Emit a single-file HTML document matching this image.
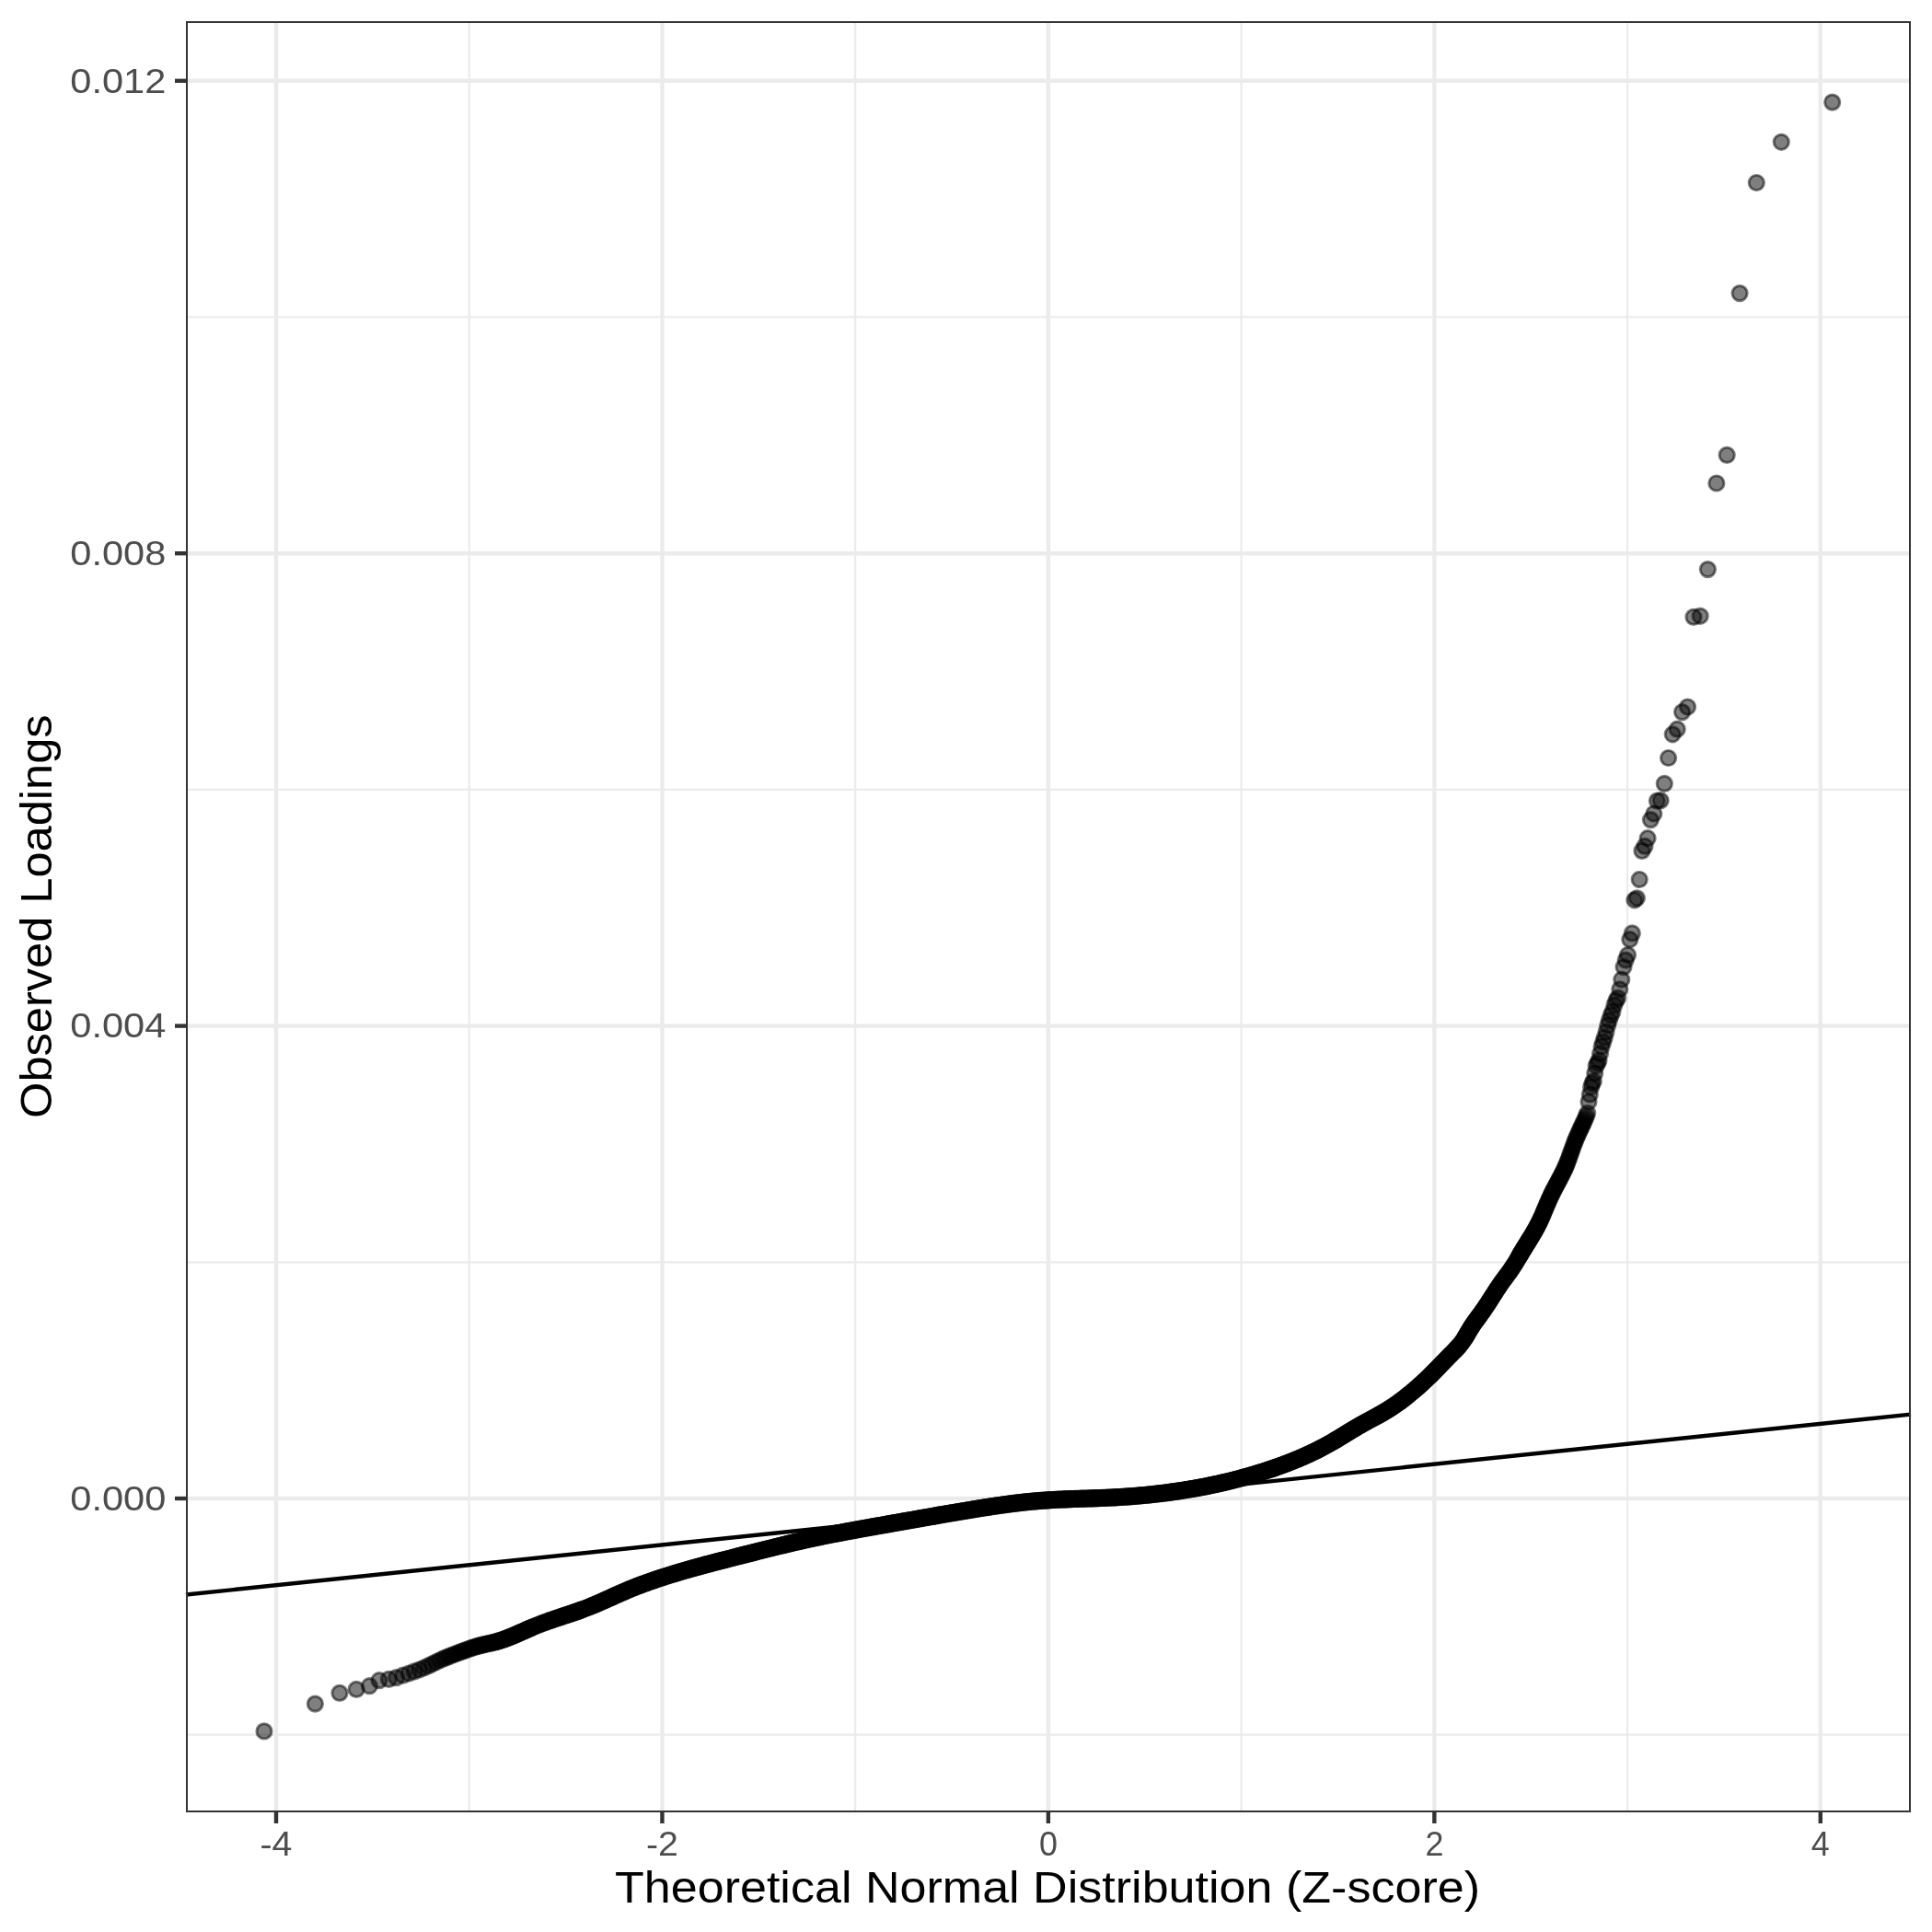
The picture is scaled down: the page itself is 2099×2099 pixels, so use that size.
<!DOCTYPE html>
<html><head><meta charset="utf-8"><style>
html,body{margin:0;padding:0;background:#fff;}
svg{display:block;will-change:transform;}
text{font-family:"Liberation Sans",sans-serif;}
</style></head><body>
<svg width="2099" height="2099" viewBox="0 0 2099 2099">
<rect width="2099" height="2099" fill="#fff"/>
<g stroke="#ebebeb" shape-rendering="auto"><line x1="202" x2="2076" y1="1884.70" y2="1884.70" stroke-width="2.2"/><line x1="202" x2="2076" y1="1371.30" y2="1371.30" stroke-width="2.2"/><line x1="202" x2="2076" y1="857.90" y2="857.90" stroke-width="2.2"/><line x1="202" x2="2076" y1="344.50" y2="344.50" stroke-width="2.2"/><line y1="23" y2="1969" x1="509.73" x2="509.73" stroke-width="2.2"/><line y1="23" y2="1969" x1="929.18" x2="929.18" stroke-width="2.2"/><line y1="23" y2="1969" x1="1348.62" x2="1348.62" stroke-width="2.2"/><line y1="23" y2="1969" x1="1768.08" x2="1768.08" stroke-width="2.2"/><line x1="202" x2="2076" y1="1628.00" y2="1628.00" stroke-width="4.4"/><line x1="202" x2="2076" y1="1114.60" y2="1114.60" stroke-width="4.4"/><line x1="202" x2="2076" y1="601.20" y2="601.20" stroke-width="4.4"/><line x1="202" x2="2076" y1="87.80" y2="87.80" stroke-width="4.4"/><line y1="23" y2="1969" x1="300.00" x2="300.00" stroke-width="4.4"/><line y1="23" y2="1969" x1="719.45" x2="719.45" stroke-width="4.4"/><line y1="23" y2="1969" x1="1138.90" x2="1138.90" stroke-width="4.4"/><line y1="23" y2="1969" x1="1558.35" x2="1558.35" stroke-width="4.4"/><line y1="23" y2="1969" x1="1977.80" x2="1977.80" stroke-width="4.4"/></g>
<g fill="#000" fill-opacity="0.5" stroke="#000" stroke-opacity="0.5" stroke-width="2.95"><circle cx="287.0" cy="1880.9" r="8.14"/><circle cx="342.4" cy="1851.1" r="8.14"/><circle cx="369.0" cy="1839.4" r="8.14"/><circle cx="387.2" cy="1835.4" r="8.14"/><circle cx="401.4" cy="1831.7" r="8.14"/><circle cx="412.0" cy="1825.7" r="8.14"/><circle cx="422.4" cy="1824.4" r="8.14"/><circle cx="430.6" cy="1822.6" r="8.14"/><circle cx="437.8" cy="1820.2" r="8.14"/><circle cx="444.3" cy="1818.0" r="8.14"/><circle cx="450.2" cy="1815.9" r="8.14"/><circle cx="455.6" cy="1814.0" r="8.14"/><circle cx="460.6" cy="1812.0" r="8.14"/><circle cx="465.2" cy="1809.9" r="8.14"/><circle cx="469.5" cy="1807.8" r="8.14"/><circle cx="473.6" cy="1805.8" r="8.14"/><circle cx="477.4" cy="1804.0" r="8.14"/><circle cx="481.0" cy="1802.4" r="8.14"/><circle cx="484.4" cy="1800.9" r="8.14"/><circle cx="487.7" cy="1799.6" r="8.14"/><circle cx="490.8" cy="1798.4" r="8.14"/><circle cx="493.8" cy="1797.3" r="8.14"/><circle cx="496.6" cy="1796.2" r="8.14"/><circle cx="499.4" cy="1795.2" r="8.14"/><circle cx="502.0" cy="1794.2" r="8.14"/><circle cx="504.5" cy="1793.3" r="8.14"/><circle cx="507.0" cy="1792.4" r="8.14"/><circle cx="509.3" cy="1791.5" r="8.14"/><circle cx="511.6" cy="1790.7" r="8.14"/><circle cx="513.8" cy="1790.0" r="8.14"/><circle cx="516.0" cy="1789.3" r="8.14"/><circle cx="518.0" cy="1788.7" r="8.14"/><circle cx="520.1" cy="1788.1" r="8.14"/><circle cx="522.0" cy="1787.6" r="8.14"/><circle cx="523.9" cy="1787.1" r="8.14"/><circle cx="525.8" cy="1786.7" r="8.14"/><circle cx="527.6" cy="1786.3" r="8.14"/><circle cx="529.4" cy="1785.9" r="8.14"/><circle cx="531.1" cy="1785.5" r="8.14"/><circle cx="532.8" cy="1785.1" r="8.14"/><circle cx="534.5" cy="1784.8" r="8.14"/><circle cx="536.1" cy="1784.4" r="8.14"/><circle cx="537.7" cy="1784.0" r="8.14"/><circle cx="539.2" cy="1783.6" r="8.14"/><circle cx="540.7" cy="1783.2" r="8.14"/><circle cx="542.2" cy="1782.7" r="8.14"/><circle cx="543.7" cy="1782.3" r="8.14"/><circle cx="545.1" cy="1781.8" r="8.14"/><circle cx="546.5" cy="1781.4" r="8.14"/><circle cx="547.9" cy="1780.9" r="8.14"/><circle cx="549.2" cy="1780.4" r="8.14"/><circle cx="550.5" cy="1779.9" r="8.14"/><circle cx="551.8" cy="1779.4" r="8.14"/><circle cx="553.1" cy="1778.9" r="8.14"/><circle cx="554.4" cy="1778.4" r="8.14"/><circle cx="555.6" cy="1777.9" r="8.14"/><circle cx="556.8" cy="1777.4" r="8.14"/><circle cx="558.0" cy="1776.9" r="8.14"/><circle cx="559.2" cy="1776.4" r="8.14"/><circle cx="560.4" cy="1775.9" r="8.14"/><circle cx="561.5" cy="1775.4" r="8.14"/><circle cx="562.6" cy="1774.9" r="8.14"/><circle cx="563.7" cy="1774.4" r="8.14"/><circle cx="564.8" cy="1773.9" r="8.14"/><circle cx="565.9" cy="1773.4" r="8.14"/><circle cx="567.0" cy="1773.0" r="8.14"/><circle cx="568.0" cy="1772.5" r="8.14"/><circle cx="569.1" cy="1772.0" r="8.14"/><circle cx="570.1" cy="1771.6" r="8.14"/><circle cx="571.1" cy="1771.1" r="8.14"/><circle cx="572.1" cy="1770.7" r="8.14"/><circle cx="573.1" cy="1770.2" r="8.14"/><circle cx="574.0" cy="1769.8" r="8.14"/><circle cx="575.0" cy="1769.4" r="8.14"/><circle cx="575.9" cy="1769.0" r="8.14"/><circle cx="576.9" cy="1768.6" r="8.14"/><circle cx="577.8" cy="1768.2" r="8.14"/><circle cx="579.6" cy="1767.4" r="8.14"/><circle cx="581.4" cy="1766.7" r="8.14"/><circle cx="583.1" cy="1766.0" r="8.14"/><circle cx="584.8" cy="1765.3" r="8.14"/><circle cx="586.5" cy="1764.7" r="8.14"/><circle cx="588.1" cy="1764.0" r="8.14"/><circle cx="589.7" cy="1763.4" r="8.14"/><circle cx="591.3" cy="1762.9" r="8.14"/><circle cx="592.8" cy="1762.3" r="8.14"/><circle cx="594.3" cy="1761.8" r="8.14"/><circle cx="595.8" cy="1761.2" r="8.14"/><circle cx="597.3" cy="1760.7" r="8.14"/><circle cx="598.7" cy="1760.2" r="8.14"/><circle cx="600.1" cy="1759.8" r="8.14"/><circle cx="601.5" cy="1759.3" r="8.14"/><circle cx="602.8" cy="1758.8" r="8.14"/><circle cx="604.2" cy="1758.4" r="8.14"/><circle cx="605.5" cy="1757.9" r="8.14"/><circle cx="606.8" cy="1757.5" r="8.14"/><circle cx="608.0" cy="1757.1" r="8.14"/><circle cx="609.3" cy="1756.7" r="8.14"/><circle cx="610.5" cy="1756.2" r="8.14"/><circle cx="611.7" cy="1755.8" r="8.14"/><circle cx="612.9" cy="1755.4" r="8.14"/><circle cx="614.1" cy="1755.0" r="8.14"/><circle cx="615.3" cy="1754.7" r="8.14"/><circle cx="616.4" cy="1754.3" r="8.14"/><circle cx="617.6" cy="1753.9" r="8.14"/><circle cx="618.7" cy="1753.5" r="8.14"/><circle cx="619.8" cy="1753.2" r="8.14"/><circle cx="620.9" cy="1752.8" r="8.14"/><circle cx="622.0" cy="1752.4" r="8.14"/><circle cx="623.0" cy="1752.1" r="8.14"/><circle cx="624.1" cy="1751.7" r="8.14"/><circle cx="625.1" cy="1751.3" r="8.14"/><circle cx="626.1" cy="1751.0" r="8.14"/><circle cx="627.1" cy="1750.6" r="8.14"/><circle cx="628.1" cy="1750.3" r="8.14"/><circle cx="629.1" cy="1749.9" r="8.14"/><circle cx="630.1" cy="1749.6" r="8.14"/><circle cx="631.1" cy="1749.2" r="8.14"/><circle cx="632.0" cy="1748.9" r="8.14"/><circle cx="633.0" cy="1748.5" r="8.14"/><circle cx="634.4" cy="1748.0" r="8.14"/><circle cx="635.8" cy="1747.5" r="8.14"/><circle cx="637.1" cy="1747.0" r="8.14"/><circle cx="638.5" cy="1746.5" r="8.14"/><circle cx="639.8" cy="1746.0" r="8.14"/><circle cx="641.1" cy="1745.4" r="8.14"/><circle cx="642.3" cy="1744.9" r="8.14"/><circle cx="643.6" cy="1744.4" r="8.14"/><circle cx="644.9" cy="1743.9" r="8.14"/><circle cx="646.1" cy="1743.4" r="8.14"/><circle cx="647.3" cy="1742.9" r="8.14"/><circle cx="648.5" cy="1742.4" r="8.14"/><circle cx="649.7" cy="1741.8" r="8.14"/><circle cx="650.8" cy="1741.3" r="8.14"/><circle cx="652.0" cy="1740.8" r="8.14"/><circle cx="653.1" cy="1740.3" r="8.14"/><circle cx="654.2" cy="1739.8" r="8.14"/><circle cx="655.3" cy="1739.4" r="8.14"/><circle cx="656.4" cy="1738.9" r="8.14"/><circle cx="657.5" cy="1738.4" r="8.14"/><circle cx="658.6" cy="1737.9" r="8.14"/><circle cx="659.6" cy="1737.4" r="8.14"/><circle cx="660.6" cy="1737.0" r="8.14"/><circle cx="661.7" cy="1736.5" r="8.14"/><circle cx="662.7" cy="1736.0" r="8.14"/><circle cx="663.7" cy="1735.6" r="8.14"/><circle cx="664.7" cy="1735.1" r="8.14"/><circle cx="665.7" cy="1734.7" r="8.14"/><circle cx="666.7" cy="1734.2" r="8.14"/><circle cx="667.6" cy="1733.8" r="8.14"/><circle cx="668.6" cy="1733.4" r="8.14"/><circle cx="669.5" cy="1732.9" r="8.14"/><circle cx="670.5" cy="1732.5" r="8.14"/><circle cx="671.4" cy="1732.1" r="8.14"/><circle cx="672.3" cy="1731.7" r="8.14"/><circle cx="673.5" cy="1731.1" r="8.14"/><circle cx="674.7" cy="1730.6" r="8.14"/><circle cx="675.9" cy="1730.1" r="8.14"/><circle cx="677.1" cy="1729.6" r="8.14"/><circle cx="678.2" cy="1729.1" r="8.14"/><circle cx="679.4" cy="1728.6" r="8.14"/><circle cx="680.5" cy="1728.1" r="8.14"/><circle cx="681.6" cy="1727.7" r="8.14"/><circle cx="682.7" cy="1727.2" r="8.14"/><circle cx="683.8" cy="1726.7" r="8.14"/><circle cx="684.9" cy="1726.3" r="8.14"/><circle cx="685.9" cy="1725.9" r="8.14"/><circle cx="687.0" cy="1725.4" r="8.14"/><circle cx="688.0" cy="1725.0" r="8.14"/><circle cx="689.0" cy="1724.6" r="8.14"/><circle cx="690.1" cy="1724.2" r="8.14"/><circle cx="691.1" cy="1723.8" r="8.14"/><circle cx="692.1" cy="1723.4" r="8.14"/><circle cx="693.0" cy="1723.0" r="8.14"/><circle cx="694.0" cy="1722.7" r="8.14"/><circle cx="695.0" cy="1722.3" r="8.14"/><circle cx="696.0" cy="1721.9" r="8.14"/><circle cx="696.9" cy="1721.6" r="8.14"/><circle cx="697.8" cy="1721.2" r="8.14"/><circle cx="699.0" cy="1720.8" r="8.14"/><circle cx="700.2" cy="1720.4" r="8.14"/><circle cx="701.3" cy="1720.0" r="8.14"/><circle cx="702.4" cy="1719.6" r="8.14"/><circle cx="703.5" cy="1719.2" r="8.14"/><circle cx="704.6" cy="1718.8" r="8.14"/><circle cx="705.7" cy="1718.4" r="8.14"/><circle cx="706.8" cy="1718.0" r="8.14"/><circle cx="707.9" cy="1717.6" r="8.14"/><circle cx="708.9" cy="1717.3" r="8.14"/><circle cx="710.0" cy="1716.9" r="8.14"/><circle cx="711.0" cy="1716.6" r="8.14"/><circle cx="712.0" cy="1716.2" r="8.14"/><circle cx="713.0" cy="1715.9" r="8.14"/><circle cx="714.0" cy="1715.5" r="8.14"/><circle cx="715.0" cy="1715.2" r="8.14"/><circle cx="716.0" cy="1714.9" r="8.14"/><circle cx="717.0" cy="1714.5" r="8.14"/><circle cx="717.9" cy="1714.2" r="8.14"/><circle cx="718.9" cy="1713.9" r="8.14"/><circle cx="720.0" cy="1713.6" r="8.14"/><circle cx="721.2" cy="1713.2" r="8.14"/><circle cx="722.3" cy="1712.8" r="8.14"/><circle cx="723.4" cy="1712.5" r="8.14"/><circle cx="724.5" cy="1712.1" r="8.14"/><circle cx="725.5" cy="1711.8" r="8.14"/><circle cx="726.6" cy="1711.5" r="8.14"/><circle cx="727.7" cy="1711.1" r="8.14"/><circle cx="728.7" cy="1710.8" r="8.14"/><circle cx="729.8" cy="1710.5" r="8.14"/><circle cx="730.8" cy="1710.2" r="8.14"/><circle cx="731.8" cy="1709.9" r="8.14"/><circle cx="732.8" cy="1709.6" r="8.14"/><circle cx="733.8" cy="1709.3" r="8.14"/><circle cx="734.8" cy="1709.0" r="8.14"/><circle cx="735.8" cy="1708.7" r="8.14"/><circle cx="736.7" cy="1708.4" r="8.14"/><circle cx="737.7" cy="1708.1" r="8.14"/><circle cx="738.8" cy="1707.8" r="8.14"/><circle cx="739.9" cy="1707.4" r="8.14"/><circle cx="741.0" cy="1707.1" r="8.14"/><circle cx="742.1" cy="1706.8" r="8.14"/><circle cx="743.2" cy="1706.5" r="8.14"/><circle cx="744.2" cy="1706.2" r="8.14"/><circle cx="745.3" cy="1705.9" r="8.14"/><circle cx="746.3" cy="1705.6" r="8.14"/><circle cx="747.3" cy="1705.3" r="8.14"/><circle cx="748.4" cy="1705.0" r="8.14"/><circle cx="749.4" cy="1704.7" r="8.14"/><circle cx="750.4" cy="1704.4" r="8.14"/><circle cx="751.4" cy="1704.1" r="8.14"/><circle cx="752.4" cy="1703.9" r="8.14"/><circle cx="753.3" cy="1703.6" r="8.14"/><circle cx="754.3" cy="1703.3" r="8.14"/><circle cx="755.4" cy="1703.0" r="8.14"/><circle cx="756.5" cy="1702.7" r="8.14"/><circle cx="757.6" cy="1702.4" r="8.14"/><circle cx="758.6" cy="1702.1" r="8.14"/><circle cx="759.7" cy="1701.9" r="8.14"/><circle cx="760.7" cy="1701.6" r="8.14"/><circle cx="761.8" cy="1701.3" r="8.14"/><circle cx="762.8" cy="1701.0" r="8.14"/><circle cx="763.8" cy="1700.7" r="8.14"/><circle cx="764.8" cy="1700.5" r="8.14"/><circle cx="765.8" cy="1700.2" r="8.14"/><circle cx="766.8" cy="1699.9" r="8.14"/><circle cx="767.8" cy="1699.7" r="8.14"/><circle cx="768.8" cy="1699.4" r="8.14"/><circle cx="769.8" cy="1699.1" r="8.14"/><circle cx="770.8" cy="1698.9" r="8.14"/><circle cx="771.9" cy="1698.6" r="8.14"/><circle cx="773.0" cy="1698.3" r="8.14"/><circle cx="774.0" cy="1698.0" r="8.14"/><circle cx="775.1" cy="1697.7" r="8.14"/><circle cx="776.1" cy="1697.5" r="8.14"/><circle cx="777.1" cy="1697.2" r="8.14"/><circle cx="778.2" cy="1696.9" r="8.14"/><circle cx="779.2" cy="1696.7" r="8.14"/><circle cx="780.2" cy="1696.4" r="8.14"/><circle cx="781.2" cy="1696.2" r="8.14"/><circle cx="782.1" cy="1695.9" r="8.14"/><circle cx="783.1" cy="1695.7" r="8.14"/><circle cx="784.1" cy="1695.4" r="8.14"/><circle cx="785.2" cy="1695.1" r="8.14"/><circle cx="786.2" cy="1694.9" r="8.14"/><circle cx="787.3" cy="1694.6" r="8.14"/><circle cx="788.3" cy="1694.3" r="8.14"/><circle cx="789.3" cy="1694.1" r="8.14"/><circle cx="790.4" cy="1693.8" r="8.14"/><circle cx="791.4" cy="1693.5" r="8.14"/><circle cx="792.4" cy="1693.3" r="8.14"/><circle cx="793.4" cy="1693.0" r="8.14"/><circle cx="794.4" cy="1692.8" r="8.14"/><circle cx="795.4" cy="1692.5" r="8.14"/><circle cx="796.3" cy="1692.3" r="8.14"/><circle cx="797.3" cy="1692.0" r="8.14"/><circle cx="798.4" cy="1691.7" r="8.14"/><circle cx="799.4" cy="1691.5" r="8.14"/><circle cx="800.5" cy="1691.2" r="8.14"/><circle cx="801.5" cy="1690.9" r="8.14"/><circle cx="802.5" cy="1690.7" r="8.14"/><circle cx="803.5" cy="1690.4" r="8.14"/><circle cx="804.5" cy="1690.2" r="8.14"/><circle cx="805.5" cy="1689.9" r="8.14"/><circle cx="806.5" cy="1689.6" r="8.14"/><circle cx="807.5" cy="1689.4" r="8.14"/><circle cx="808.5" cy="1689.1" r="8.14"/><circle cx="809.5" cy="1688.9" r="8.14"/><circle cx="810.5" cy="1688.6" r="8.14"/><circle cx="811.6" cy="1688.4" r="8.14"/><circle cx="812.6" cy="1688.1" r="8.14"/><circle cx="813.6" cy="1687.8" r="8.14"/><circle cx="814.7" cy="1687.6" r="8.14"/><circle cx="815.7" cy="1687.3" r="8.14"/><circle cx="816.7" cy="1687.1" r="8.14"/><circle cx="817.7" cy="1686.8" r="8.14"/><circle cx="818.7" cy="1686.6" r="8.14"/><circle cx="819.7" cy="1686.3" r="8.14"/><circle cx="820.6" cy="1686.1" r="8.14"/><circle cx="821.6" cy="1685.8" r="8.14"/><circle cx="822.6" cy="1685.5" r="8.14"/><circle cx="823.7" cy="1685.3" r="8.14"/><circle cx="824.7" cy="1685.0" r="8.14"/><circle cx="825.7" cy="1684.8" r="8.14"/><circle cx="826.7" cy="1684.5" r="8.14"/><circle cx="827.7" cy="1684.3" r="8.14"/><circle cx="828.7" cy="1684.0" r="8.14"/><circle cx="829.7" cy="1683.8" r="8.14"/><circle cx="830.7" cy="1683.5" r="8.14"/><circle cx="831.7" cy="1683.3" r="8.14"/><circle cx="832.7" cy="1683.0" r="8.14"/><circle cx="833.7" cy="1682.8" r="8.14"/><circle cx="834.7" cy="1682.5" r="8.14"/><circle cx="835.8" cy="1682.3" r="8.14"/><circle cx="836.8" cy="1682.0" r="8.14"/><circle cx="837.8" cy="1681.8" r="8.14"/><circle cx="838.8" cy="1681.5" r="8.14"/><circle cx="839.8" cy="1681.3" r="8.14"/><circle cx="840.8" cy="1681.0" r="8.14"/><circle cx="841.8" cy="1680.8" r="8.14"/><circle cx="842.7" cy="1680.5" r="8.14"/><circle cx="843.8" cy="1680.3" r="8.14"/><circle cx="844.8" cy="1680.0" r="8.14"/><circle cx="845.8" cy="1679.8" r="8.14"/><circle cx="846.8" cy="1679.5" r="8.14"/><circle cx="847.9" cy="1679.3" r="8.14"/><circle cx="848.9" cy="1679.0" r="8.14"/><circle cx="849.9" cy="1678.8" r="8.14"/><circle cx="850.9" cy="1678.6" r="8.14"/><circle cx="851.8" cy="1678.3" r="8.14"/><circle cx="852.8" cy="1678.1" r="8.14"/><circle cx="853.9" cy="1677.8" r="8.14"/><circle cx="854.9" cy="1677.6" r="8.14"/><circle cx="855.9" cy="1677.4" r="8.14"/><circle cx="856.9" cy="1677.1" r="8.14"/><circle cx="857.9" cy="1676.9" r="8.14"/><circle cx="858.9" cy="1676.6" r="8.14"/><circle cx="859.9" cy="1676.4" r="8.14"/><circle cx="860.9" cy="1676.2" r="8.14"/><circle cx="861.9" cy="1676.0" r="8.14"/><circle cx="862.9" cy="1675.7" r="8.14"/><circle cx="863.9" cy="1675.5" r="8.14"/><circle cx="864.9" cy="1675.2" r="8.14"/><circle cx="866.0" cy="1675.0" r="8.14"/><circle cx="867.0" cy="1674.8" r="8.14"/><circle cx="868.0" cy="1674.6" r="8.14"/><circle cx="869.0" cy="1674.3" r="8.14"/><circle cx="870.0" cy="1674.1" r="8.14"/><circle cx="871.0" cy="1673.9" r="8.14"/><circle cx="872.0" cy="1673.7" r="8.14"/><circle cx="872.9" cy="1673.4" r="8.14"/><circle cx="874.0" cy="1673.2" r="8.14"/><circle cx="875.0" cy="1673.0" r="8.14"/><circle cx="876.0" cy="1672.8" r="8.14"/><circle cx="877.0" cy="1672.5" r="8.14"/><circle cx="878.0" cy="1672.3" r="8.14"/><circle cx="879.0" cy="1672.1" r="8.14"/><circle cx="880.0" cy="1671.9" r="8.14"/><circle cx="881.0" cy="1671.7" r="8.14"/><circle cx="882.0" cy="1671.5" r="8.14"/><circle cx="883.0" cy="1671.2" r="8.14"/><circle cx="884.0" cy="1671.0" r="8.14"/><circle cx="885.0" cy="1670.8" r="8.14"/><circle cx="886.0" cy="1670.6" r="8.14"/><circle cx="887.0" cy="1670.4" r="8.14"/><circle cx="888.0" cy="1670.2" r="8.14"/><circle cx="889.0" cy="1670.0" r="8.14"/><circle cx="890.0" cy="1669.8" r="8.14"/><circle cx="891.0" cy="1669.6" r="8.14"/><circle cx="892.0" cy="1669.3" r="8.14"/><circle cx="893.1" cy="1669.1" r="8.14"/><circle cx="894.1" cy="1668.9" r="8.14"/><circle cx="895.1" cy="1668.7" r="8.14"/><circle cx="896.1" cy="1668.5" r="8.14"/><circle cx="897.1" cy="1668.3" r="8.14"/><circle cx="898.1" cy="1668.1" r="8.14"/><circle cx="899.1" cy="1667.9" r="8.14"/><circle cx="900.1" cy="1667.7" r="8.14"/><circle cx="901.1" cy="1667.5" r="8.14"/><circle cx="902.1" cy="1667.3" r="8.14"/><circle cx="903.1" cy="1667.1" r="8.14"/><circle cx="904.1" cy="1666.9" r="8.14"/><circle cx="905.1" cy="1666.7" r="8.14"/><circle cx="906.1" cy="1666.5" r="8.14"/><circle cx="907.1" cy="1666.3" r="8.14"/><circle cx="908.1" cy="1666.1" r="8.14"/><circle cx="909.1" cy="1665.9" r="8.14"/><circle cx="910.1" cy="1665.8" r="8.14"/><circle cx="911.2" cy="1665.6" r="8.14"/><circle cx="912.2" cy="1665.4" r="8.14"/><circle cx="913.2" cy="1665.2" r="8.14"/><circle cx="914.2" cy="1665.0" r="8.14"/><circle cx="915.2" cy="1664.8" r="8.14"/><circle cx="916.2" cy="1664.6" r="8.14"/><circle cx="917.2" cy="1664.4" r="8.14"/><circle cx="918.1" cy="1664.2" r="8.14"/><circle cx="919.2" cy="1664.0" r="8.14"/><circle cx="920.2" cy="1663.8" r="8.14"/><circle cx="921.2" cy="1663.7" r="8.14"/><circle cx="922.2" cy="1663.5" r="8.14"/><circle cx="923.2" cy="1663.3" r="8.14"/><circle cx="924.2" cy="1663.1" r="8.14"/><circle cx="925.2" cy="1662.9" r="8.14"/><circle cx="926.2" cy="1662.7" r="8.14"/><circle cx="927.2" cy="1662.6" r="8.14"/><circle cx="928.2" cy="1662.4" r="8.14"/><circle cx="929.2" cy="1662.2" r="8.14"/><circle cx="930.2" cy="1662.0" r="8.14"/><circle cx="931.2" cy="1661.8" r="8.14"/><circle cx="932.2" cy="1661.6" r="8.14"/><circle cx="933.2" cy="1661.4" r="8.14"/><circle cx="934.2" cy="1661.3" r="8.14"/><circle cx="935.2" cy="1661.1" r="8.14"/><circle cx="936.2" cy="1660.9" r="8.14"/><circle cx="937.3" cy="1660.7" r="8.14"/><circle cx="938.3" cy="1660.5" r="8.14"/><circle cx="939.3" cy="1660.4" r="8.14"/><circle cx="940.3" cy="1660.2" r="8.14"/><circle cx="941.3" cy="1660.0" r="8.14"/><circle cx="942.3" cy="1659.8" r="8.14"/><circle cx="943.3" cy="1659.6" r="8.14"/><circle cx="944.3" cy="1659.5" r="8.14"/><circle cx="945.3" cy="1659.3" r="8.14"/><circle cx="946.3" cy="1659.1" r="8.14"/><circle cx="947.3" cy="1658.9" r="8.14"/><circle cx="948.3" cy="1658.7" r="8.14"/><circle cx="949.3" cy="1658.6" r="8.14"/><circle cx="950.3" cy="1658.4" r="8.14"/><circle cx="951.3" cy="1658.2" r="8.14"/><circle cx="952.3" cy="1658.0" r="8.14"/><circle cx="953.3" cy="1657.9" r="8.14"/><circle cx="954.3" cy="1657.7" r="8.14"/><circle cx="955.4" cy="1657.5" r="8.14"/><circle cx="956.4" cy="1657.3" r="8.14"/><circle cx="957.4" cy="1657.2" r="8.14"/><circle cx="958.4" cy="1657.0" r="8.14"/><circle cx="959.4" cy="1656.8" r="8.14"/><circle cx="960.4" cy="1656.6" r="8.14"/><circle cx="961.4" cy="1656.4" r="8.14"/><circle cx="962.4" cy="1656.3" r="8.14"/><circle cx="963.4" cy="1656.1" r="8.14"/><circle cx="964.4" cy="1655.9" r="8.14"/><circle cx="965.4" cy="1655.7" r="8.14"/><circle cx="966.4" cy="1655.6" r="8.14"/><circle cx="967.4" cy="1655.4" r="8.14"/><circle cx="968.4" cy="1655.2" r="8.14"/><circle cx="969.4" cy="1655.0" r="8.14"/><circle cx="970.4" cy="1654.9" r="8.14"/><circle cx="971.4" cy="1654.7" r="8.14"/><circle cx="972.4" cy="1654.5" r="8.14"/><circle cx="973.4" cy="1654.3" r="8.14"/><circle cx="974.4" cy="1654.2" r="8.14"/><circle cx="975.4" cy="1654.0" r="8.14"/><circle cx="976.5" cy="1653.8" r="8.14"/><circle cx="977.5" cy="1653.6" r="8.14"/><circle cx="978.5" cy="1653.4" r="8.14"/><circle cx="979.4" cy="1653.3" r="8.14"/><circle cx="980.4" cy="1653.1" r="8.14"/><circle cx="981.4" cy="1652.9" r="8.14"/><circle cx="982.4" cy="1652.7" r="8.14"/><circle cx="983.5" cy="1652.6" r="8.14"/><circle cx="984.5" cy="1652.4" r="8.14"/><circle cx="985.5" cy="1652.2" r="8.14"/><circle cx="986.5" cy="1652.0" r="8.14"/><circle cx="987.5" cy="1651.9" r="8.14"/><circle cx="988.5" cy="1651.7" r="8.14"/><circle cx="989.5" cy="1651.5" r="8.14"/><circle cx="990.5" cy="1651.3" r="8.14"/><circle cx="991.4" cy="1651.2" r="8.14"/><circle cx="992.5" cy="1651.0" r="8.14"/><circle cx="993.5" cy="1650.8" r="8.14"/><circle cx="994.5" cy="1650.6" r="8.14"/><circle cx="995.5" cy="1650.4" r="8.14"/><circle cx="996.5" cy="1650.3" r="8.14"/><circle cx="997.5" cy="1650.1" r="8.14"/><circle cx="998.5" cy="1649.9" r="8.14"/><circle cx="999.5" cy="1649.7" r="8.14"/><circle cx="1000.5" cy="1649.6" r="8.14"/><circle cx="1001.5" cy="1649.4" r="8.14"/><circle cx="1002.5" cy="1649.2" r="8.14"/><circle cx="1003.5" cy="1649.0" r="8.14"/><circle cx="1004.5" cy="1648.9" r="8.14"/><circle cx="1005.5" cy="1648.7" r="8.14"/><circle cx="1006.5" cy="1648.5" r="8.14"/><circle cx="1007.5" cy="1648.3" r="8.14"/><circle cx="1008.5" cy="1648.2" r="8.14"/><circle cx="1009.5" cy="1648.0" r="8.14"/><circle cx="1010.5" cy="1647.8" r="8.14"/><circle cx="1011.5" cy="1647.6" r="8.14"/><circle cx="1012.5" cy="1647.5" r="8.14"/><circle cx="1013.5" cy="1647.3" r="8.14"/><circle cx="1014.5" cy="1647.1" r="8.14"/><circle cx="1015.5" cy="1646.9" r="8.14"/><circle cx="1016.5" cy="1646.8" r="8.14"/><circle cx="1017.5" cy="1646.6" r="8.14"/><circle cx="1018.5" cy="1646.4" r="8.14"/><circle cx="1019.5" cy="1646.2" r="8.14"/><circle cx="1020.5" cy="1646.1" r="8.14"/><circle cx="1021.5" cy="1645.9" r="8.14"/><circle cx="1022.5" cy="1645.7" r="8.14"/><circle cx="1023.5" cy="1645.5" r="8.14"/><circle cx="1024.5" cy="1645.4" r="8.14"/><circle cx="1025.5" cy="1645.2" r="8.14"/><circle cx="1026.5" cy="1645.0" r="8.14"/><circle cx="1027.5" cy="1644.9" r="8.14"/><circle cx="1028.5" cy="1644.7" r="8.14"/><circle cx="1029.5" cy="1644.5" r="8.14"/><circle cx="1030.5" cy="1644.3" r="8.14"/><circle cx="1031.5" cy="1644.2" r="8.14"/><circle cx="1032.5" cy="1644.0" r="8.14"/><circle cx="1033.5" cy="1643.8" r="8.14"/><circle cx="1034.5" cy="1643.7" r="8.14"/><circle cx="1035.4" cy="1643.5" r="8.14"/><circle cx="1036.5" cy="1643.3" r="8.14"/><circle cx="1037.5" cy="1643.1" r="8.14"/><circle cx="1038.5" cy="1643.0" r="8.14"/><circle cx="1039.5" cy="1642.8" r="8.14"/><circle cx="1040.5" cy="1642.6" r="8.14"/><circle cx="1041.5" cy="1642.5" r="8.14"/><circle cx="1042.5" cy="1642.3" r="8.14"/><circle cx="1043.5" cy="1642.1" r="8.14"/><circle cx="1044.5" cy="1642.0" r="8.14"/><circle cx="1045.5" cy="1641.8" r="8.14"/><circle cx="1046.5" cy="1641.6" r="8.14"/><circle cx="1047.4" cy="1641.5" r="8.14"/><circle cx="1048.5" cy="1641.3" r="8.14"/><circle cx="1049.5" cy="1641.1" r="8.14"/><circle cx="1050.5" cy="1641.0" r="8.14"/><circle cx="1051.5" cy="1640.8" r="8.14"/><circle cx="1052.5" cy="1640.6" r="8.14"/><circle cx="1053.5" cy="1640.5" r="8.14"/><circle cx="1054.5" cy="1640.3" r="8.14"/><circle cx="1055.5" cy="1640.1" r="8.14"/><circle cx="1056.5" cy="1640.0" r="8.14"/><circle cx="1057.5" cy="1639.8" r="8.14"/><circle cx="1058.5" cy="1639.6" r="8.14"/><circle cx="1059.5" cy="1639.5" r="8.14"/><circle cx="1060.5" cy="1639.3" r="8.14"/><circle cx="1061.5" cy="1639.2" r="8.14"/><circle cx="1062.4" cy="1639.0" r="8.14"/><circle cx="1063.5" cy="1638.8" r="8.14"/><circle cx="1064.5" cy="1638.7" r="8.14"/><circle cx="1065.5" cy="1638.5" r="8.14"/><circle cx="1066.5" cy="1638.3" r="8.14"/><circle cx="1067.5" cy="1638.2" r="8.14"/><circle cx="1068.5" cy="1638.0" r="8.14"/><circle cx="1069.5" cy="1637.9" r="8.14"/><circle cx="1070.5" cy="1637.7" r="8.14"/><circle cx="1071.5" cy="1637.6" r="8.14"/><circle cx="1072.5" cy="1637.4" r="8.14"/><circle cx="1073.5" cy="1637.3" r="8.14"/><circle cx="1074.5" cy="1637.1" r="8.14"/><circle cx="1075.5" cy="1636.9" r="8.14"/><circle cx="1076.5" cy="1636.8" r="8.14"/><circle cx="1077.5" cy="1636.6" r="8.14"/><circle cx="1078.5" cy="1636.5" r="8.14"/><circle cx="1079.5" cy="1636.3" r="8.14"/><circle cx="1080.5" cy="1636.2" r="8.14"/><circle cx="1081.5" cy="1636.0" r="8.14"/><circle cx="1082.5" cy="1635.9" r="8.14"/><circle cx="1083.5" cy="1635.8" r="8.14"/><circle cx="1084.5" cy="1635.6" r="8.14"/><circle cx="1085.5" cy="1635.5" r="8.14"/><circle cx="1086.5" cy="1635.3" r="8.14"/><circle cx="1087.6" cy="1635.2" r="8.14"/><circle cx="1088.6" cy="1635.0" r="8.14"/><circle cx="1089.6" cy="1634.9" r="8.14"/><circle cx="1090.6" cy="1634.8" r="8.14"/><circle cx="1091.6" cy="1634.6" r="8.14"/><circle cx="1092.6" cy="1634.5" r="8.14"/><circle cx="1093.6" cy="1634.4" r="8.14"/><circle cx="1094.6" cy="1634.2" r="8.14"/><circle cx="1095.5" cy="1634.1" r="8.14"/><circle cx="1096.5" cy="1634.0" r="8.14"/><circle cx="1097.5" cy="1633.8" r="8.14"/><circle cx="1098.5" cy="1633.7" r="8.14"/><circle cx="1099.5" cy="1633.6" r="8.14"/><circle cx="1100.5" cy="1633.4" r="8.14"/><circle cx="1101.6" cy="1633.3" r="8.14"/><circle cx="1102.6" cy="1633.2" r="8.14"/><circle cx="1103.6" cy="1633.1" r="8.14"/><circle cx="1104.6" cy="1632.9" r="8.14"/><circle cx="1105.6" cy="1632.8" r="8.14"/><circle cx="1106.6" cy="1632.7" r="8.14"/><circle cx="1107.6" cy="1632.6" r="8.14"/><circle cx="1108.7" cy="1632.5" r="8.14"/><circle cx="1109.7" cy="1632.4" r="8.14"/><circle cx="1110.7" cy="1632.2" r="8.14"/><circle cx="1111.7" cy="1632.1" r="8.14"/><circle cx="1112.7" cy="1632.0" r="8.14"/><circle cx="1113.7" cy="1631.9" r="8.14"/><circle cx="1114.7" cy="1631.8" r="8.14"/><circle cx="1115.7" cy="1631.7" r="8.14"/><circle cx="1116.7" cy="1631.6" r="8.14"/><circle cx="1117.7" cy="1631.5" r="8.14"/><circle cx="1118.7" cy="1631.4" r="8.14"/><circle cx="1119.7" cy="1631.3" r="8.14"/><circle cx="1120.7" cy="1631.2" r="8.14"/><circle cx="1121.7" cy="1631.1" r="8.14"/><circle cx="1122.7" cy="1631.0" r="8.14"/><circle cx="1123.7" cy="1630.9" r="8.14"/><circle cx="1124.7" cy="1630.8" r="8.14"/><circle cx="1125.7" cy="1630.8" r="8.14"/><circle cx="1126.8" cy="1630.7" r="8.14"/><circle cx="1127.8" cy="1630.6" r="8.14"/><circle cx="1128.8" cy="1630.5" r="8.14"/><circle cx="1129.8" cy="1630.4" r="8.14"/><circle cx="1130.8" cy="1630.3" r="8.14"/><circle cx="1131.8" cy="1630.3" r="8.14"/><circle cx="1132.8" cy="1630.2" r="8.14"/><circle cx="1133.8" cy="1630.1" r="8.14"/><circle cx="1134.8" cy="1630.1" r="8.14"/><circle cx="1135.8" cy="1630.0" r="8.14"/><circle cx="1136.8" cy="1629.9" r="8.14"/><circle cx="1137.8" cy="1629.9" r="8.14"/><circle cx="1138.8" cy="1629.8" r="8.14"/><circle cx="1139.8" cy="1629.7" r="8.14"/><circle cx="1140.8" cy="1629.7" r="8.14"/><circle cx="1141.8" cy="1629.6" r="8.14"/><circle cx="1142.8" cy="1629.5" r="8.14"/><circle cx="1143.8" cy="1629.5" r="8.14"/><circle cx="1144.8" cy="1629.4" r="8.14"/><circle cx="1145.8" cy="1629.4" r="8.14"/><circle cx="1146.8" cy="1629.3" r="8.14"/><circle cx="1147.8" cy="1629.3" r="8.14"/><circle cx="1148.8" cy="1629.2" r="8.14"/><circle cx="1149.8" cy="1629.2" r="8.14"/><circle cx="1150.8" cy="1629.1" r="8.14"/><circle cx="1151.8" cy="1629.1" r="8.14"/><circle cx="1152.8" cy="1629.0" r="8.14"/><circle cx="1153.8" cy="1629.0" r="8.14"/><circle cx="1154.8" cy="1628.9" r="8.14"/><circle cx="1155.8" cy="1628.9" r="8.14"/><circle cx="1156.8" cy="1628.9" r="8.14"/><circle cx="1157.8" cy="1628.8" r="8.14"/><circle cx="1158.8" cy="1628.8" r="8.14"/><circle cx="1159.8" cy="1628.7" r="8.14"/><circle cx="1160.8" cy="1628.7" r="8.14"/><circle cx="1161.8" cy="1628.7" r="8.14"/><circle cx="1162.8" cy="1628.6" r="8.14"/><circle cx="1163.8" cy="1628.6" r="8.14"/><circle cx="1164.8" cy="1628.5" r="8.14"/><circle cx="1165.8" cy="1628.5" r="8.14"/><circle cx="1166.8" cy="1628.5" r="8.14"/><circle cx="1167.9" cy="1628.4" r="8.14"/><circle cx="1168.9" cy="1628.4" r="8.14"/><circle cx="1169.9" cy="1628.4" r="8.14"/><circle cx="1170.9" cy="1628.3" r="8.14"/><circle cx="1171.9" cy="1628.3" r="8.14"/><circle cx="1172.9" cy="1628.3" r="8.14"/><circle cx="1173.9" cy="1628.2" r="8.14"/><circle cx="1174.9" cy="1628.2" r="8.14"/><circle cx="1176.0" cy="1628.2" r="8.14"/><circle cx="1177.0" cy="1628.1" r="8.14"/><circle cx="1178.0" cy="1628.1" r="8.14"/><circle cx="1179.0" cy="1628.1" r="8.14"/><circle cx="1180.0" cy="1628.0" r="8.14"/><circle cx="1181.0" cy="1628.0" r="8.14"/><circle cx="1182.1" cy="1628.0" r="8.14"/><circle cx="1183.1" cy="1627.9" r="8.14"/><circle cx="1184.1" cy="1627.9" r="8.14"/><circle cx="1185.1" cy="1627.9" r="8.14"/><circle cx="1186.2" cy="1627.8" r="8.14"/><circle cx="1187.2" cy="1627.8" r="8.14"/><circle cx="1188.2" cy="1627.8" r="8.14"/><circle cx="1189.2" cy="1627.7" r="8.14"/><circle cx="1190.2" cy="1627.7" r="8.14"/><circle cx="1191.2" cy="1627.6" r="8.14"/><circle cx="1192.2" cy="1627.6" r="8.14"/><circle cx="1193.2" cy="1627.6" r="8.14"/><circle cx="1194.2" cy="1627.5" r="8.14"/><circle cx="1195.2" cy="1627.5" r="8.14"/><circle cx="1196.2" cy="1627.5" r="8.14"/><circle cx="1197.2" cy="1627.4" r="8.14"/><circle cx="1198.2" cy="1627.4" r="8.14"/><circle cx="1199.3" cy="1627.3" r="8.14"/><circle cx="1200.3" cy="1627.3" r="8.14"/><circle cx="1201.3" cy="1627.3" r="8.14"/><circle cx="1202.3" cy="1627.2" r="8.14"/><circle cx="1203.3" cy="1627.2" r="8.14"/><circle cx="1204.4" cy="1627.1" r="8.14"/><circle cx="1205.4" cy="1627.1" r="8.14"/><circle cx="1206.4" cy="1627.0" r="8.14"/><circle cx="1207.4" cy="1627.0" r="8.14"/><circle cx="1208.4" cy="1626.9" r="8.14"/><circle cx="1209.4" cy="1626.9" r="8.14"/><circle cx="1210.4" cy="1626.8" r="8.14"/><circle cx="1211.4" cy="1626.8" r="8.14"/><circle cx="1212.4" cy="1626.7" r="8.14"/><circle cx="1213.4" cy="1626.7" r="8.14"/><circle cx="1214.4" cy="1626.6" r="8.14"/><circle cx="1215.5" cy="1626.5" r="8.14"/><circle cx="1216.5" cy="1626.5" r="8.14"/><circle cx="1217.5" cy="1626.4" r="8.14"/><circle cx="1218.5" cy="1626.4" r="8.14"/><circle cx="1219.5" cy="1626.3" r="8.14"/><circle cx="1220.6" cy="1626.2" r="8.14"/><circle cx="1221.6" cy="1626.2" r="8.14"/><circle cx="1222.6" cy="1626.1" r="8.14"/><circle cx="1223.6" cy="1626.0" r="8.14"/><circle cx="1224.6" cy="1625.9" r="8.14"/><circle cx="1225.6" cy="1625.9" r="8.14"/><circle cx="1226.6" cy="1625.8" r="8.14"/><circle cx="1227.6" cy="1625.7" r="8.14"/><circle cx="1228.6" cy="1625.7" r="8.14"/><circle cx="1229.6" cy="1625.6" r="8.14"/><circle cx="1230.6" cy="1625.5" r="8.14"/><circle cx="1231.7" cy="1625.4" r="8.14"/><circle cx="1232.7" cy="1625.3" r="8.14"/><circle cx="1233.7" cy="1625.3" r="8.14"/><circle cx="1234.7" cy="1625.2" r="8.14"/><circle cx="1235.7" cy="1625.1" r="8.14"/><circle cx="1236.7" cy="1625.0" r="8.14"/><circle cx="1237.7" cy="1624.9" r="8.14"/><circle cx="1238.7" cy="1624.8" r="8.14"/><circle cx="1239.7" cy="1624.7" r="8.14"/><circle cx="1240.7" cy="1624.6" r="8.14"/><circle cx="1241.7" cy="1624.5" r="8.14"/><circle cx="1242.8" cy="1624.5" r="8.14"/><circle cx="1243.8" cy="1624.4" r="8.14"/><circle cx="1244.8" cy="1624.3" r="8.14"/><circle cx="1245.8" cy="1624.2" r="8.14"/><circle cx="1246.8" cy="1624.1" r="8.14"/><circle cx="1247.8" cy="1624.0" r="8.14"/><circle cx="1248.8" cy="1623.9" r="8.14"/><circle cx="1249.8" cy="1623.8" r="8.14"/><circle cx="1250.8" cy="1623.6" r="8.14"/><circle cx="1251.8" cy="1623.5" r="8.14"/><circle cx="1252.9" cy="1623.4" r="8.14"/><circle cx="1253.9" cy="1623.3" r="8.14"/><circle cx="1254.9" cy="1623.2" r="8.14"/><circle cx="1255.9" cy="1623.1" r="8.14"/><circle cx="1256.9" cy="1623.0" r="8.14"/><circle cx="1257.9" cy="1622.9" r="8.14"/><circle cx="1258.9" cy="1622.7" r="8.14"/><circle cx="1259.9" cy="1622.6" r="8.14"/><circle cx="1260.9" cy="1622.5" r="8.14"/><circle cx="1261.9" cy="1622.4" r="8.14"/><circle cx="1262.9" cy="1622.3" r="8.14"/><circle cx="1264.0" cy="1622.1" r="8.14"/><circle cx="1265.0" cy="1622.0" r="8.14"/><circle cx="1266.0" cy="1621.9" r="8.14"/><circle cx="1267.0" cy="1621.8" r="8.14"/><circle cx="1268.0" cy="1621.6" r="8.14"/><circle cx="1269.0" cy="1621.5" r="8.14"/><circle cx="1270.0" cy="1621.4" r="8.14"/><circle cx="1271.0" cy="1621.2" r="8.14"/><circle cx="1272.0" cy="1621.1" r="8.14"/><circle cx="1273.0" cy="1621.0" r="8.14"/><circle cx="1274.0" cy="1620.8" r="8.14"/><circle cx="1275.0" cy="1620.7" r="8.14"/><circle cx="1276.1" cy="1620.5" r="8.14"/><circle cx="1277.1" cy="1620.4" r="8.14"/><circle cx="1278.1" cy="1620.2" r="8.14"/><circle cx="1279.1" cy="1620.1" r="8.14"/><circle cx="1280.1" cy="1619.9" r="8.14"/><circle cx="1281.1" cy="1619.8" r="8.14"/><circle cx="1282.1" cy="1619.6" r="8.14"/><circle cx="1283.1" cy="1619.5" r="8.14"/><circle cx="1284.1" cy="1619.3" r="8.14"/><circle cx="1285.1" cy="1619.2" r="8.14"/><circle cx="1286.1" cy="1619.0" r="8.14"/><circle cx="1287.1" cy="1618.9" r="8.14"/><circle cx="1288.1" cy="1618.7" r="8.14"/><circle cx="1289.1" cy="1618.5" r="8.14"/><circle cx="1290.1" cy="1618.4" r="8.14"/><circle cx="1291.1" cy="1618.2" r="8.14"/><circle cx="1292.1" cy="1618.0" r="8.14"/><circle cx="1293.1" cy="1617.9" r="8.14"/><circle cx="1294.1" cy="1617.7" r="8.14"/><circle cx="1295.2" cy="1617.5" r="8.14"/><circle cx="1296.2" cy="1617.4" r="8.14"/><circle cx="1297.2" cy="1617.2" r="8.14"/><circle cx="1298.1" cy="1617.0" r="8.14"/><circle cx="1299.1" cy="1616.8" r="8.14"/><circle cx="1300.1" cy="1616.7" r="8.14"/><circle cx="1301.1" cy="1616.5" r="8.14"/><circle cx="1302.1" cy="1616.3" r="8.14"/><circle cx="1303.2" cy="1616.1" r="8.14"/><circle cx="1304.2" cy="1615.9" r="8.14"/><circle cx="1305.2" cy="1615.7" r="8.14"/><circle cx="1306.2" cy="1615.5" r="8.14"/><circle cx="1307.2" cy="1615.3" r="8.14"/><circle cx="1308.2" cy="1615.1" r="8.14"/><circle cx="1309.1" cy="1615.0" r="8.14"/><circle cx="1310.1" cy="1614.8" r="8.14"/><circle cx="1311.2" cy="1614.6" r="8.14"/><circle cx="1312.2" cy="1614.4" r="8.14"/><circle cx="1313.2" cy="1614.2" r="8.14"/><circle cx="1314.2" cy="1613.9" r="8.14"/><circle cx="1315.2" cy="1613.7" r="8.14"/><circle cx="1316.2" cy="1613.5" r="8.14"/><circle cx="1317.2" cy="1613.3" r="8.14"/><circle cx="1318.1" cy="1613.1" r="8.14"/><circle cx="1319.1" cy="1612.9" r="8.14"/><circle cx="1320.1" cy="1612.7" r="8.14"/><circle cx="1321.2" cy="1612.5" r="8.14"/><circle cx="1322.2" cy="1612.3" r="8.14"/><circle cx="1323.1" cy="1612.0" r="8.14"/><circle cx="1324.1" cy="1611.8" r="8.14"/><circle cx="1325.1" cy="1611.6" r="8.14"/><circle cx="1326.1" cy="1611.4" r="8.14"/><circle cx="1327.1" cy="1611.1" r="8.14"/><circle cx="1328.1" cy="1610.9" r="8.14"/><circle cx="1329.1" cy="1610.7" r="8.14"/><circle cx="1330.1" cy="1610.5" r="8.14"/><circle cx="1331.1" cy="1610.2" r="8.14"/><circle cx="1332.1" cy="1610.0" r="8.14"/><circle cx="1333.1" cy="1609.8" r="8.14"/><circle cx="1334.1" cy="1609.5" r="8.14"/><circle cx="1335.1" cy="1609.3" r="8.14"/><circle cx="1336.1" cy="1609.0" r="8.14"/><circle cx="1337.1" cy="1608.8" r="8.14"/><circle cx="1338.1" cy="1608.5" r="8.14"/><circle cx="1339.1" cy="1608.3" r="8.14"/><circle cx="1340.0" cy="1608.0" r="8.14"/><circle cx="1341.0" cy="1607.8" r="8.14"/><circle cx="1342.0" cy="1607.5" r="8.14"/><circle cx="1343.0" cy="1607.3" r="8.14"/><circle cx="1344.0" cy="1607.0" r="8.14"/><circle cx="1345.0" cy="1606.8" r="8.14"/><circle cx="1346.0" cy="1606.5" r="8.14"/><circle cx="1347.0" cy="1606.2" r="8.14"/><circle cx="1347.9" cy="1606.0" r="8.14"/><circle cx="1348.9" cy="1605.7" r="8.14"/><circle cx="1349.9" cy="1605.5" r="8.14"/><circle cx="1350.9" cy="1605.2" r="8.14"/><circle cx="1351.9" cy="1604.9" r="8.14"/><circle cx="1352.9" cy="1604.6" r="8.14"/><circle cx="1353.8" cy="1604.4" r="8.14"/><circle cx="1354.8" cy="1604.1" r="8.14"/><circle cx="1355.8" cy="1603.8" r="8.14"/><circle cx="1356.8" cy="1603.5" r="8.14"/><circle cx="1357.8" cy="1603.2" r="8.14"/><circle cx="1358.8" cy="1603.0" r="8.14"/><circle cx="1359.7" cy="1602.7" r="8.14"/><circle cx="1360.7" cy="1602.4" r="8.14"/><circle cx="1361.7" cy="1602.1" r="8.14"/><circle cx="1362.7" cy="1601.8" r="8.14"/><circle cx="1363.7" cy="1601.5" r="8.14"/><circle cx="1364.7" cy="1601.2" r="8.14"/><circle cx="1365.6" cy="1600.9" r="8.14"/><circle cx="1366.6" cy="1600.6" r="8.14"/><circle cx="1367.6" cy="1600.3" r="8.14"/><circle cx="1368.6" cy="1600.0" r="8.14"/><circle cx="1369.5" cy="1599.7" r="8.14"/><circle cx="1370.5" cy="1599.4" r="8.14"/><circle cx="1371.5" cy="1599.1" r="8.14"/><circle cx="1372.5" cy="1598.8" r="8.14"/><circle cx="1373.5" cy="1598.5" r="8.14"/><circle cx="1374.4" cy="1598.2" r="8.14"/><circle cx="1375.4" cy="1597.8" r="8.14"/><circle cx="1376.4" cy="1597.5" r="8.14"/><circle cx="1377.3" cy="1597.2" r="8.14"/><circle cx="1378.3" cy="1596.9" r="8.14"/><circle cx="1379.3" cy="1596.5" r="8.14"/><circle cx="1380.3" cy="1596.2" r="8.14"/><circle cx="1381.3" cy="1595.9" r="8.14"/><circle cx="1382.2" cy="1595.6" r="8.14"/><circle cx="1383.2" cy="1595.2" r="8.14"/><circle cx="1384.1" cy="1594.9" r="8.14"/><circle cx="1385.1" cy="1594.6" r="8.14"/><circle cx="1386.1" cy="1594.2" r="8.14"/><circle cx="1387.0" cy="1593.9" r="8.14"/><circle cx="1388.0" cy="1593.5" r="8.14"/><circle cx="1389.0" cy="1593.2" r="8.14"/><circle cx="1390.0" cy="1592.8" r="8.14"/><circle cx="1390.9" cy="1592.5" r="8.14"/><circle cx="1391.9" cy="1592.2" r="8.14"/><circle cx="1392.8" cy="1591.8" r="8.14"/><circle cx="1393.8" cy="1591.5" r="8.14"/><circle cx="1394.8" cy="1591.1" r="8.14"/><circle cx="1395.7" cy="1590.7" r="8.14"/><circle cx="1396.7" cy="1590.4" r="8.14"/><circle cx="1397.7" cy="1590.0" r="8.14"/><circle cx="1398.6" cy="1589.6" r="8.14"/><circle cx="1399.6" cy="1589.3" r="8.14"/><circle cx="1400.5" cy="1588.9" r="8.14"/><circle cx="1401.5" cy="1588.5" r="8.14"/><circle cx="1402.4" cy="1588.2" r="8.14"/><circle cx="1403.4" cy="1587.8" r="8.14"/><circle cx="1404.4" cy="1587.4" r="8.14"/><circle cx="1405.3" cy="1587.0" r="8.14"/><circle cx="1406.3" cy="1586.6" r="8.14"/><circle cx="1407.2" cy="1586.2" r="8.14"/><circle cx="1408.2" cy="1585.8" r="8.14"/><circle cx="1409.1" cy="1585.4" r="8.14"/><circle cx="1410.1" cy="1585.1" r="8.14"/><circle cx="1411.0" cy="1584.7" r="8.14"/><circle cx="1412.0" cy="1584.3" r="8.14"/><circle cx="1412.9" cy="1583.8" r="8.14"/><circle cx="1413.9" cy="1583.4" r="8.14"/><circle cx="1414.9" cy="1583.0" r="8.14"/><circle cx="1415.8" cy="1582.6" r="8.14"/><circle cx="1416.7" cy="1582.2" r="8.14"/><circle cx="1417.6" cy="1581.8" r="8.14"/><circle cx="1418.6" cy="1581.4" r="8.14"/><circle cx="1419.5" cy="1580.9" r="8.14"/><circle cx="1420.4" cy="1580.5" r="8.14"/><circle cx="1421.4" cy="1580.1" r="8.14"/><circle cx="1422.3" cy="1579.6" r="8.14"/><circle cx="1423.3" cy="1579.2" r="8.14"/><circle cx="1424.3" cy="1578.7" r="8.14"/><circle cx="1425.2" cy="1578.3" r="8.14"/><circle cx="1426.1" cy="1577.9" r="8.14"/><circle cx="1427.0" cy="1577.4" r="8.14"/><circle cx="1427.9" cy="1577.0" r="8.14"/><circle cx="1428.9" cy="1576.5" r="8.14"/><circle cx="1429.8" cy="1576.1" r="8.14"/><circle cx="1430.7" cy="1575.6" r="8.14"/><circle cx="1431.7" cy="1575.1" r="8.14"/><circle cx="1432.7" cy="1574.7" r="8.14"/><circle cx="1433.5" cy="1574.2" r="8.14"/><circle cx="1434.4" cy="1573.7" r="8.14"/><circle cx="1435.3" cy="1573.3" r="8.14"/><circle cx="1436.3" cy="1572.8" r="8.14"/><circle cx="1437.2" cy="1572.3" r="8.14"/><circle cx="1438.1" cy="1571.8" r="8.14"/><circle cx="1439.0" cy="1571.3" r="8.14"/><circle cx="1439.9" cy="1570.8" r="8.14"/><circle cx="1440.9" cy="1570.3" r="8.14"/><circle cx="1441.8" cy="1569.8" r="8.14"/><circle cx="1442.7" cy="1569.3" r="8.14"/><circle cx="1443.6" cy="1568.8" r="8.14"/><circle cx="1444.5" cy="1568.3" r="8.14"/><circle cx="1445.4" cy="1567.8" r="8.14"/><circle cx="1446.3" cy="1567.3" r="8.14"/><circle cx="1447.2" cy="1566.8" r="8.14"/><circle cx="1448.1" cy="1566.3" r="8.14"/><circle cx="1449.0" cy="1565.7" r="8.14"/><circle cx="1449.9" cy="1565.2" r="8.14"/><circle cx="1450.8" cy="1564.6" r="8.14"/><circle cx="1451.8" cy="1564.1" r="8.14"/><circle cx="1452.6" cy="1563.6" r="8.14"/><circle cx="1453.5" cy="1563.0" r="8.14"/><circle cx="1454.4" cy="1562.5" r="8.14"/><circle cx="1455.2" cy="1562.0" r="8.14"/><circle cx="1456.1" cy="1561.5" r="8.14"/><circle cx="1457.0" cy="1560.9" r="8.14"/><circle cx="1457.9" cy="1560.4" r="8.14"/><circle cx="1458.8" cy="1559.8" r="8.14"/><circle cx="1459.7" cy="1559.3" r="8.14"/><circle cx="1460.6" cy="1558.7" r="8.14"/><circle cx="1461.5" cy="1558.1" r="8.14"/><circle cx="1462.5" cy="1557.6" r="8.14"/><circle cx="1463.4" cy="1557.0" r="8.14"/><circle cx="1464.3" cy="1556.4" r="8.14"/><circle cx="1465.2" cy="1555.9" r="8.14"/><circle cx="1466.1" cy="1555.4" r="8.14"/><circle cx="1466.9" cy="1554.8" r="8.14"/><circle cx="1467.8" cy="1554.3" r="8.14"/><circle cx="1468.7" cy="1553.8" r="8.14"/><circle cx="1469.6" cy="1553.2" r="8.14"/><circle cx="1470.5" cy="1552.7" r="8.14"/><circle cx="1471.4" cy="1552.2" r="8.14"/><circle cx="1472.3" cy="1551.6" r="8.14"/><circle cx="1473.2" cy="1551.1" r="8.14"/><circle cx="1474.1" cy="1550.5" r="8.14"/><circle cx="1475.0" cy="1550.0" r="8.14"/><circle cx="1475.9" cy="1549.5" r="8.14"/><circle cx="1476.9" cy="1548.9" r="8.14"/><circle cx="1477.8" cy="1548.4" r="8.14"/><circle cx="1478.8" cy="1547.9" r="8.14"/><circle cx="1479.7" cy="1547.3" r="8.14"/><circle cx="1480.7" cy="1546.8" r="8.14"/><circle cx="1481.7" cy="1546.2" r="8.14"/><circle cx="1482.5" cy="1545.8" r="8.14"/><circle cx="1483.4" cy="1545.3" r="8.14"/><circle cx="1484.3" cy="1544.8" r="8.14"/><circle cx="1485.2" cy="1544.3" r="8.14"/><circle cx="1486.1" cy="1543.8" r="8.14"/><circle cx="1487.0" cy="1543.3" r="8.14"/><circle cx="1487.9" cy="1542.8" r="8.14"/><circle cx="1488.9" cy="1542.3" r="8.14"/><circle cx="1489.8" cy="1541.8" r="8.14"/><circle cx="1490.7" cy="1541.3" r="8.14"/><circle cx="1491.7" cy="1540.8" r="8.14"/><circle cx="1492.6" cy="1540.3" r="8.14"/><circle cx="1493.6" cy="1539.8" r="8.14"/><circle cx="1494.6" cy="1539.2" r="8.14"/><circle cx="1495.6" cy="1538.7" r="8.14"/><circle cx="1496.5" cy="1538.2" r="8.14"/><circle cx="1497.4" cy="1537.7" r="8.14"/><circle cx="1498.3" cy="1537.2" r="8.14"/><circle cx="1499.2" cy="1536.7" r="8.14"/><circle cx="1500.1" cy="1536.2" r="8.14"/><circle cx="1501.0" cy="1535.7" r="8.14"/><circle cx="1501.9" cy="1535.1" r="8.14"/><circle cx="1502.8" cy="1534.6" r="8.14"/><circle cx="1503.8" cy="1534.1" r="8.14"/><circle cx="1504.7" cy="1533.5" r="8.14"/><circle cx="1505.6" cy="1532.9" r="8.14"/><circle cx="1506.6" cy="1532.4" r="8.14"/><circle cx="1507.6" cy="1531.8" r="8.14"/><circle cx="1508.5" cy="1531.2" r="8.14"/><circle cx="1509.4" cy="1530.6" r="8.14"/><circle cx="1510.2" cy="1530.1" r="8.14"/><circle cx="1511.1" cy="1529.5" r="8.14"/><circle cx="1512.0" cy="1529.0" r="8.14"/><circle cx="1512.8" cy="1528.4" r="8.14"/><circle cx="1513.7" cy="1527.8" r="8.14"/><circle cx="1514.6" cy="1527.2" r="8.14"/><circle cx="1515.5" cy="1526.6" r="8.14"/><circle cx="1516.4" cy="1526.0" r="8.14"/><circle cx="1517.3" cy="1525.3" r="8.14"/><circle cx="1518.2" cy="1524.7" r="8.14"/><circle cx="1519.2" cy="1524.0" r="8.14"/><circle cx="1520.1" cy="1523.3" r="8.14"/><circle cx="1521.0" cy="1522.6" r="8.14"/><circle cx="1521.9" cy="1522.1" r="8.14"/><circle cx="1522.7" cy="1521.4" r="8.14"/><circle cx="1523.5" cy="1520.8" r="8.14"/><circle cx="1524.3" cy="1520.2" r="8.14"/><circle cx="1525.2" cy="1519.6" r="8.14"/><circle cx="1526.0" cy="1518.9" r="8.14"/><circle cx="1526.9" cy="1518.2" r="8.14"/><circle cx="1527.7" cy="1517.6" r="8.14"/><circle cx="1528.6" cy="1516.9" r="8.14"/><circle cx="1529.4" cy="1516.2" r="8.14"/><circle cx="1530.3" cy="1515.5" r="8.14"/><circle cx="1531.2" cy="1514.8" r="8.14"/><circle cx="1532.1" cy="1514.0" r="8.14"/><circle cx="1533.0" cy="1513.3" r="8.14"/><circle cx="1533.9" cy="1512.5" r="8.14"/><circle cx="1534.8" cy="1511.8" r="8.14"/><circle cx="1535.6" cy="1511.1" r="8.14"/><circle cx="1536.3" cy="1510.5" r="8.14"/><circle cx="1537.1" cy="1509.8" r="8.14"/><circle cx="1537.9" cy="1509.1" r="8.14"/><circle cx="1538.7" cy="1508.5" r="8.14"/><circle cx="1539.5" cy="1507.8" r="8.14"/><circle cx="1540.3" cy="1507.1" r="8.14"/><circle cx="1541.1" cy="1506.4" r="8.14"/><circle cx="1541.9" cy="1505.6" r="8.14"/><circle cx="1542.7" cy="1504.9" r="8.14"/><circle cx="1543.5" cy="1504.2" r="8.14"/><circle cx="1544.3" cy="1503.4" r="8.14"/><circle cx="1545.2" cy="1502.7" r="8.14"/><circle cx="1546.0" cy="1501.9" r="8.14"/><circle cx="1546.8" cy="1501.1" r="8.14"/><circle cx="1547.7" cy="1500.3" r="8.14"/><circle cx="1548.6" cy="1499.5" r="8.14"/><circle cx="1549.4" cy="1498.7" r="8.14"/><circle cx="1550.3" cy="1497.8" r="8.14"/><circle cx="1551.2" cy="1497.0" r="8.14"/><circle cx="1552.1" cy="1496.1" r="8.14"/><circle cx="1553.0" cy="1495.3" r="8.14"/><circle cx="1553.7" cy="1494.6" r="8.14"/><circle cx="1554.4" cy="1493.9" r="8.14"/><circle cx="1555.2" cy="1493.1" r="8.14"/><circle cx="1555.9" cy="1492.4" r="8.14"/><circle cx="1556.6" cy="1491.7" r="8.14"/><circle cx="1557.4" cy="1490.9" r="8.14"/><circle cx="1558.1" cy="1490.2" r="8.14"/><circle cx="1558.9" cy="1489.4" r="8.14"/><circle cx="1559.7" cy="1488.6" r="8.14"/><circle cx="1560.4" cy="1487.8" r="8.14"/><circle cx="1561.2" cy="1487.1" r="8.14"/><circle cx="1562.0" cy="1486.2" r="8.14"/><circle cx="1562.8" cy="1485.4" r="8.14"/><circle cx="1563.6" cy="1484.6" r="8.14"/><circle cx="1564.4" cy="1483.8" r="8.14"/><circle cx="1565.2" cy="1482.9" r="8.14"/><circle cx="1566.0" cy="1482.1" r="8.14"/><circle cx="1566.8" cy="1481.2" r="8.14"/><circle cx="1567.6" cy="1480.4" r="8.14"/><circle cx="1568.5" cy="1479.5" r="8.14"/><circle cx="1569.3" cy="1478.6" r="8.14"/><circle cx="1570.2" cy="1477.8" r="8.14"/><circle cx="1571.0" cy="1476.9" r="8.14"/><circle cx="1571.9" cy="1476.0" r="8.14"/><circle cx="1572.7" cy="1475.1" r="8.14"/><circle cx="1573.6" cy="1474.2" r="8.14"/><circle cx="1574.5" cy="1473.3" r="8.14"/><circle cx="1575.4" cy="1472.4" r="8.14"/><circle cx="1576.3" cy="1471.5" r="8.14"/><circle cx="1577.2" cy="1470.6" r="8.14"/><circle cx="1578.1" cy="1469.7" r="8.14"/><circle cx="1579.0" cy="1468.8" r="8.14"/><circle cx="1580.0" cy="1467.8" r="8.14"/><circle cx="1580.7" cy="1467.1" r="8.14"/><circle cx="1581.4" cy="1466.4" r="8.14"/><circle cx="1582.1" cy="1465.6" r="8.14"/><circle cx="1582.8" cy="1464.9" r="8.14"/><circle cx="1583.5" cy="1464.1" r="8.14"/><circle cx="1584.3" cy="1463.3" r="8.14"/><circle cx="1585.0" cy="1462.5" r="8.14"/><circle cx="1585.7" cy="1461.6" r="8.14"/><circle cx="1586.5" cy="1460.7" r="8.14"/><circle cx="1587.2" cy="1459.8" r="8.14"/><circle cx="1588.0" cy="1458.8" r="8.14"/><circle cx="1588.8" cy="1457.8" r="8.14"/><circle cx="1589.5" cy="1456.7" r="8.14"/><circle cx="1590.3" cy="1455.5" r="8.14"/><circle cx="1591.1" cy="1454.3" r="8.14"/><circle cx="1591.9" cy="1453.1" r="8.14"/><circle cx="1592.4" cy="1452.2" r="8.14"/><circle cx="1592.9" cy="1451.3" r="8.14"/><circle cx="1593.5" cy="1450.4" r="8.14"/><circle cx="1594.0" cy="1449.4" r="8.14"/><circle cx="1594.6" cy="1448.5" r="8.14"/><circle cx="1595.1" cy="1447.5" r="8.14"/><circle cx="1595.7" cy="1446.6" r="8.14"/><circle cx="1596.2" cy="1445.6" r="8.14"/><circle cx="1596.8" cy="1444.7" r="8.14"/><circle cx="1597.3" cy="1443.8" r="8.14"/><circle cx="1597.9" cy="1442.9" r="8.14"/><circle cx="1598.4" cy="1442.0" r="8.14"/><circle cx="1599.0" cy="1441.1" r="8.14"/><circle cx="1599.6" cy="1440.2" r="8.14"/><circle cx="1600.2" cy="1439.3" r="8.14"/><circle cx="1600.7" cy="1438.5" r="8.14"/><circle cx="1601.3" cy="1437.7" r="8.14"/><circle cx="1601.9" cy="1436.8" r="8.14"/><circle cx="1602.5" cy="1436.0" r="8.14"/><circle cx="1603.1" cy="1435.2" r="8.14"/><circle cx="1603.7" cy="1434.4" r="8.14"/><circle cx="1604.3" cy="1433.6" r="8.14"/><circle cx="1604.9" cy="1432.7" r="8.14"/><circle cx="1605.5" cy="1431.9" r="8.14"/><circle cx="1606.1" cy="1431.1" r="8.14"/><circle cx="1606.7" cy="1430.3" r="8.14"/><circle cx="1607.3" cy="1429.4" r="8.14"/><circle cx="1608.0" cy="1428.6" r="8.14"/><circle cx="1608.6" cy="1427.7" r="8.14"/><circle cx="1609.2" cy="1426.8" r="8.14"/><circle cx="1609.9" cy="1425.9" r="8.14"/><circle cx="1610.5" cy="1425.0" r="8.14"/><circle cx="1611.1" cy="1424.1" r="8.14"/><circle cx="1611.8" cy="1423.2" r="8.14"/><circle cx="1612.4" cy="1422.2" r="8.14"/><circle cx="1613.1" cy="1421.3" r="8.14"/><circle cx="1613.8" cy="1420.3" r="8.14"/><circle cx="1614.4" cy="1419.3" r="8.14"/><circle cx="1615.1" cy="1418.3" r="8.14"/><circle cx="1615.8" cy="1417.2" r="8.14"/><circle cx="1616.5" cy="1416.2" r="8.14"/><circle cx="1617.2" cy="1415.1" r="8.14"/><circle cx="1617.8" cy="1414.1" r="8.14"/><circle cx="1618.5" cy="1413.0" r="8.14"/><circle cx="1619.2" cy="1411.9" r="8.14"/><circle cx="1620.0" cy="1410.8" r="8.14"/><circle cx="1620.7" cy="1409.7" r="8.14"/><circle cx="1621.4" cy="1408.5" r="8.14"/><circle cx="1622.1" cy="1407.4" r="8.14"/><circle cx="1622.9" cy="1406.3" r="8.14"/><circle cx="1623.6" cy="1405.1" r="8.14"/><circle cx="1624.3" cy="1404.0" r="8.14"/><circle cx="1625.1" cy="1402.8" r="8.14"/><circle cx="1625.8" cy="1401.6" r="8.14"/><circle cx="1626.6" cy="1400.5" r="8.14"/><circle cx="1627.4" cy="1399.3" r="8.14"/><circle cx="1628.1" cy="1398.2" r="8.14"/><circle cx="1628.9" cy="1397.0" r="8.14"/><circle cx="1629.7" cy="1395.8" r="8.14"/><circle cx="1630.5" cy="1394.7" r="8.14"/><circle cx="1631.3" cy="1393.5" r="8.14"/><circle cx="1632.1" cy="1392.4" r="8.14"/><circle cx="1632.9" cy="1391.2" r="8.14"/><circle cx="1633.8" cy="1390.1" r="8.14"/><circle cx="1634.6" cy="1389.0" r="8.14"/><circle cx="1635.5" cy="1387.8" r="8.14"/><circle cx="1636.3" cy="1386.7" r="8.14"/><circle cx="1637.2" cy="1385.5" r="8.14"/><circle cx="1638.0" cy="1384.4" r="8.14"/><circle cx="1638.9" cy="1383.2" r="8.14"/><circle cx="1639.8" cy="1382.0" r="8.14"/><circle cx="1640.7" cy="1380.7" r="8.14"/><circle cx="1641.6" cy="1379.4" r="8.14"/><circle cx="1642.5" cy="1378.1" r="8.14"/><circle cx="1643.4" cy="1376.8" r="8.14"/><circle cx="1644.3" cy="1375.3" r="8.14"/><circle cx="1645.3" cy="1373.9" r="8.14"/><circle cx="1646.2" cy="1372.3" r="8.14"/><circle cx="1647.2" cy="1370.7" r="8.14"/><circle cx="1648.2" cy="1369.1" r="8.14"/><circle cx="1649.2" cy="1367.4" r="8.14"/><circle cx="1650.1" cy="1365.7" r="8.14"/><circle cx="1650.7" cy="1364.8" r="8.14"/><circle cx="1651.2" cy="1363.9" r="8.14"/><circle cx="1651.7" cy="1363.1" r="8.14"/><circle cx="1652.2" cy="1362.2" r="8.14"/><circle cx="1652.7" cy="1361.3" r="8.14"/><circle cx="1653.2" cy="1360.5" r="8.14"/><circle cx="1653.7" cy="1359.6" r="8.14"/><circle cx="1654.2" cy="1358.7" r="8.14"/><circle cx="1654.8" cy="1357.9" r="8.14"/><circle cx="1655.3" cy="1357.0" r="8.14"/><circle cx="1655.8" cy="1356.1" r="8.14"/><circle cx="1656.4" cy="1355.2" r="8.14"/><circle cx="1656.9" cy="1354.4" r="8.14"/><circle cx="1657.5" cy="1353.5" r="8.14"/><circle cx="1658.0" cy="1352.6" r="8.14"/><circle cx="1658.6" cy="1351.7" r="8.14"/><circle cx="1659.1" cy="1350.9" r="8.14"/><circle cx="1659.7" cy="1350.0" r="8.14"/><circle cx="1660.2" cy="1349.1" r="8.14"/><circle cx="1660.8" cy="1348.2" r="8.14"/><circle cx="1661.4" cy="1347.2" r="8.14"/><circle cx="1661.9" cy="1346.3" r="8.14"/><circle cx="1662.5" cy="1345.4" r="8.14"/><circle cx="1663.1" cy="1344.4" r="8.14"/><circle cx="1663.7" cy="1343.5" r="8.14"/><circle cx="1664.3" cy="1342.5" r="8.14"/><circle cx="1664.9" cy="1341.5" r="8.14"/><circle cx="1665.5" cy="1340.5" r="8.14"/><circle cx="1666.1" cy="1339.5" r="8.14"/><circle cx="1666.7" cy="1338.5" r="8.14"/><circle cx="1667.3" cy="1337.4" r="8.14"/><circle cx="1667.9" cy="1336.3" r="8.14"/><circle cx="1668.5" cy="1335.2" r="8.14"/><circle cx="1669.1" cy="1334.1" r="8.14"/><circle cx="1669.8" cy="1332.9" r="8.14"/><circle cx="1670.4" cy="1331.7" r="8.14"/><circle cx="1671.0" cy="1330.5" r="8.14"/><circle cx="1671.7" cy="1329.2" r="8.14"/><circle cx="1672.3" cy="1327.9" r="8.14"/><circle cx="1673.0" cy="1326.6" r="8.14"/><circle cx="1673.6" cy="1325.1" r="8.14"/><circle cx="1674.3" cy="1323.7" r="8.14"/><circle cx="1675.0" cy="1322.2" r="8.14"/><circle cx="1675.7" cy="1320.7" r="8.14"/><circle cx="1676.3" cy="1319.1" r="8.14"/><circle cx="1677.0" cy="1317.5" r="8.14"/><circle cx="1677.7" cy="1315.8" r="8.14"/><circle cx="1678.4" cy="1314.2" r="8.14"/><circle cx="1679.1" cy="1312.5" r="8.14"/><circle cx="1679.8" cy="1310.8" r="8.14"/><circle cx="1680.5" cy="1309.1" r="8.14"/><circle cx="1681.3" cy="1307.4" r="8.14"/><circle cx="1682.0" cy="1305.7" r="8.14"/><circle cx="1682.7" cy="1304.0" r="8.14"/><circle cx="1683.5" cy="1302.3" r="8.14"/><circle cx="1684.2" cy="1300.7" r="8.14"/><circle cx="1685.0" cy="1299.1" r="8.14"/><circle cx="1685.7" cy="1297.5" r="8.14"/><circle cx="1686.5" cy="1295.9" r="8.14"/><circle cx="1687.3" cy="1294.4" r="8.14"/><circle cx="1688.1" cy="1292.8" r="8.14"/><circle cx="1688.9" cy="1291.3" r="8.14"/><circle cx="1689.7" cy="1289.8" r="8.14"/><circle cx="1690.5" cy="1288.3" r="8.14"/><circle cx="1691.3" cy="1286.7" r="8.14"/><circle cx="1692.1" cy="1285.2" r="8.14"/><circle cx="1693.0" cy="1283.6" r="8.14"/><circle cx="1693.8" cy="1282.0" r="8.14"/><circle cx="1694.7" cy="1280.4" r="8.14"/><circle cx="1695.5" cy="1278.8" r="8.14"/><circle cx="1696.4" cy="1277.1" r="8.14"/><circle cx="1697.3" cy="1275.3" r="8.14"/><circle cx="1698.2" cy="1273.5" r="8.14"/><circle cx="1699.1" cy="1271.7" r="8.14"/><circle cx="1700.0" cy="1269.7" r="8.14"/><circle cx="1700.9" cy="1267.6" r="8.14"/><circle cx="1701.9" cy="1265.4" r="8.14"/><circle cx="1702.8" cy="1263.1" r="8.14"/><circle cx="1703.8" cy="1260.6" r="8.14"/><circle cx="1704.7" cy="1258.0" r="8.14"/><circle cx="1705.7" cy="1255.3" r="8.14"/><circle cx="1706.7" cy="1252.4" r="8.14"/><circle cx="1707.7" cy="1249.6" r="8.14"/><circle cx="1708.7" cy="1246.7" r="8.14"/><circle cx="1709.8" cy="1243.8" r="8.14"/><circle cx="1710.8" cy="1241.0" r="8.14"/><circle cx="1711.9" cy="1238.3" r="8.14"/><circle cx="1713.0" cy="1235.7" r="8.14"/><circle cx="1714.1" cy="1233.2" r="8.14"/><circle cx="1715.2" cy="1230.7" r="8.14"/><circle cx="1716.3" cy="1228.3" r="8.14"/><circle cx="1717.4" cy="1225.9" r="8.14"/><circle cx="1718.6" cy="1223.4" r="8.14"/><circle cx="1719.8" cy="1220.9" r="8.14"/><circle cx="1721.0" cy="1218.3" r="8.14"/><circle cx="1722.2" cy="1215.5" r="8.14"/><circle cx="1723.4" cy="1212.6" r="8.14"/><circle cx="1724.7" cy="1209.3" r="8.14"/><circle cx="1726.0" cy="1197.0" r="8.14"/><circle cx="1727.3" cy="1189.0" r="8.14"/><circle cx="1728.6" cy="1181.0" r="8.14"/><circle cx="1729.9" cy="1177.0" r="8.14"/><circle cx="1731.3" cy="1174.5" r="8.14"/><circle cx="1732.7" cy="1166.0" r="8.14"/><circle cx="1734.1" cy="1158.0" r="8.14"/><circle cx="1735.6" cy="1155.0" r="8.14"/><circle cx="1737.1" cy="1152.0" r="8.14"/><circle cx="1738.6" cy="1144.6" r="8.14"/><circle cx="1740.1" cy="1137.0" r="8.14"/><circle cx="1741.7" cy="1132.0" r="8.14"/><circle cx="1743.3" cy="1127.2" r="8.14"/><circle cx="1745.0" cy="1121.0" r="8.14"/><circle cx="1746.7" cy="1114.0" r="8.14"/><circle cx="1748.4" cy="1108.6" r="8.14"/><circle cx="1750.2" cy="1103.0" r="8.14"/><circle cx="1752.0" cy="1099.0" r="8.14"/><circle cx="1753.9" cy="1092.0" r="8.14"/><circle cx="1755.8" cy="1087.0" r="8.14"/><circle cx="1757.7" cy="1084.1" r="8.14"/><circle cx="1759.8" cy="1074.8" r="8.14"/><circle cx="1761.8" cy="1064.2" r="8.14"/><circle cx="1764.0" cy="1050.6" r="8.14"/><circle cx="1766.2" cy="1043.1" r="8.14"/><circle cx="1768.5" cy="1037.5" r="8.14"/><circle cx="1770.8" cy="1020.7" r="8.14"/><circle cx="1773.3" cy="1013.9" r="8.14"/><circle cx="1775.8" cy="977.8" r="8.14"/><circle cx="1778.4" cy="975.8" r="8.14"/><circle cx="1781.2" cy="955.5" r="8.14"/><circle cx="1784.0" cy="924.4" r="8.14"/><circle cx="1787.0" cy="919.4" r="8.14"/><circle cx="1790.1" cy="910.7" r="8.14"/><circle cx="1793.4" cy="890.6" r="8.14"/><circle cx="1796.8" cy="884.0" r="8.14"/><circle cx="1800.4" cy="870.1" r="8.14"/><circle cx="1804.2" cy="869.7" r="8.14"/><circle cx="1808.3" cy="851.4" r="8.14"/><circle cx="1812.6" cy="823.5" r="8.14"/><circle cx="1817.2" cy="797.8" r="8.14"/><circle cx="1822.2" cy="792.2" r="8.14"/><circle cx="1827.6" cy="773.6" r="8.14"/><circle cx="1833.5" cy="768.0" r="8.14"/><circle cx="1840.0" cy="670.4" r="8.14"/><circle cx="1847.2" cy="669.3" r="8.14"/><circle cx="1855.4" cy="618.6" r="8.14"/><circle cx="1864.9" cy="525.0" r="8.14"/><circle cx="1876.2" cy="494.4" r="8.14"/><circle cx="1890.1" cy="318.6" r="8.14"/><circle cx="1908.3" cy="198.5" r="8.14"/><circle cx="1935.3" cy="154.3" r="8.14"/><circle cx="1990.7" cy="111.1" r="8.14"/></g>
<line x1="202" y1="1732.5" x2="2076" y2="1536.6" stroke="#000" stroke-width="4.4"/>
<rect x="203" y="24" width="1872" height="1944" fill="none" stroke="#333" stroke-width="2"/>
<g stroke="#333" stroke-width="4.4"><line x1="190" x2="202" y1="1628.00" y2="1628.00"/><line x1="190" x2="202" y1="1114.60" y2="1114.60"/><line x1="190" x2="202" y1="601.20" y2="601.20"/><line x1="190" x2="202" y1="87.80" y2="87.80"/><line y1="1969" y2="1981" x1="300.00" x2="300.00"/><line y1="1969" y2="1981" x1="719.45" x2="719.45"/><line y1="1969" y2="1981" x1="1138.90" x2="1138.90"/><line y1="1969" y2="1981" x1="1558.35" x2="1558.35"/><line y1="1969" y2="1981" x1="1977.80" x2="1977.80"/></g>
<g fill="#4d4d4d" font-size="36.5"><text x="180.3" y="1640.7" text-anchor="end" textLength="104" lengthAdjust="spacingAndGlyphs">0.000</text><text x="180.3" y="1127.3" text-anchor="end" textLength="104" lengthAdjust="spacingAndGlyphs">0.004</text><text x="180.3" y="613.9" text-anchor="end" textLength="104" lengthAdjust="spacingAndGlyphs">0.008</text><text x="180.3" y="100.5" text-anchor="end" textLength="104" lengthAdjust="spacingAndGlyphs">0.012</text><text x="300.0" y="2015.5" text-anchor="middle" textLength="35" lengthAdjust="spacingAndGlyphs">-4</text><text x="719.5" y="2015.5" text-anchor="middle" textLength="35" lengthAdjust="spacingAndGlyphs">-2</text><text x="1138.9" y="2015.5" text-anchor="middle" textLength="20" lengthAdjust="spacingAndGlyphs">0</text><text x="1558.4" y="2015.5" text-anchor="middle" textLength="20" lengthAdjust="spacingAndGlyphs">2</text><text x="1977.8" y="2015.5" text-anchor="middle" textLength="20" lengthAdjust="spacingAndGlyphs">4</text></g>
<text x="1138" y="2067.2" text-anchor="middle" font-size="49" fill="#000" textLength="940" lengthAdjust="spacingAndGlyphs">Theoretical Normal Distribution (Z-score)</text>
<text transform="translate(55.8 995.7) rotate(-90)" x="0" y="0" text-anchor="middle" font-size="49" fill="#000" textLength="438.5" lengthAdjust="spacingAndGlyphs">Observed Loadings</text>
</svg>
</body></html>
